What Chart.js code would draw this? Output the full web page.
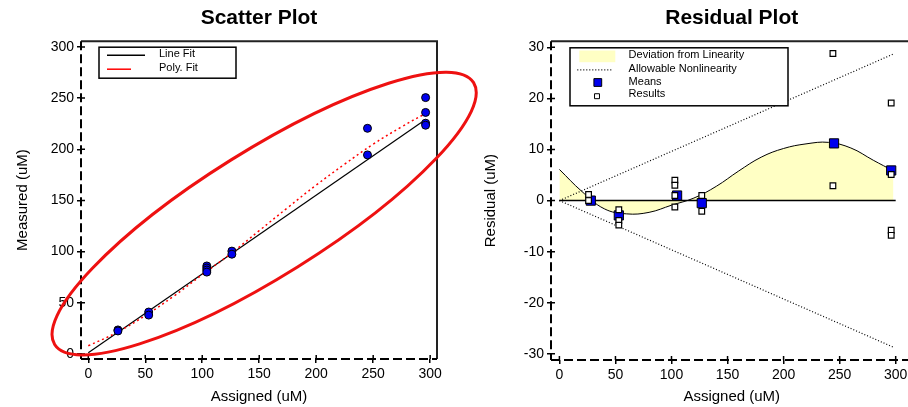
<!DOCTYPE html>
<html>
<head>
<meta charset="utf-8">
<title>Scatter Plot / Residual Plot</title>
<script src="https://cdn.jsdelivr.net/npm/chart.js@4.4.1/dist/chart.umd.min.js"></script>
<style>
  html, body { margin: 0; padding: 0; background: #fff; overflow: hidden; width: 908px; height: 407px; }
  #scatterChart { position: absolute; left: 0; top: 0; }
  #residualChart { position: absolute; left: 480px; top: 0; }
</style>
</head>
<body>
<canvas id="scatterChart" width="480" height="407"></canvas>
<canvas id="residualChart" width="440" height="407"></canvas>
<script>
// Tick labels
const xTickValues = [0, 50, 100, 150, 200, 250, 300];
const scatterYTicks = [0, 50, 100, 150, 200, 250, 300];
const residualYTicks = [-30, -20, -10, 0, 10, 20, 30];

// Scatter plot: measured results per assigned level
const assigned = [26, 26, 53, 53, 104, 104, 104, 104, 126, 126, 245, 245, 296, 296, 296, 296];
const measured = [23.5, 22.5, 41, 38, 86, 84, 82, 80, 100.5, 97.5, 220.5, 194.5, 250.5, 236, 225.5, 223.5];

// Fitted lines
const lineFitX = [0, 296];
const lineFitY = [1.3, 229];
const polyFitX = [0, 25, 50, 75, 100, 125, 150, 175, 200, 225, 250, 275, 296];
const polyFitY = [8, 21, 37.5, 56.5, 77.5, 98, 120.5, 143, 165, 185.5, 205, 222, 235];

// Residual plot
const resultX = [26, 26, 53, 53, 53, 103, 103, 103, 103, 127, 127, 244, 244, 296, 296, 296, 296];
const resultY = [1.2, 0, -1.8, -3.9, -4.8, 4.0, 3.0, 1.0, -1.25, 1.0, -2.1, 28.8, 2.9, 19.1, 5.1, -5.8, -6.8];
const meanX = [28, 53, 105, 127, 245, 296];
const meanY = [0, -2.9, 1.0, -0.5, 11.2, 5.9];
const deviationX = [0, 20, 40, 60, 80, 100, 120, 140, 160, 180, 200, 220, 240, 260, 280, 298];
const deviationY = [6.1, 1.8, -1.6, -2.6, -2.3, -0.9, 0.5, 2.8, 5.8, 8.5, 10.2, 11.1, 11.4, 10.3, 7.9, 5.8];
const allowX = [0, 298];
const allowUpperY = [0, 28.7];
const allowLowerY = [0, -28.7];
const zeroX = [0, 300];
const zeroY = [0, 0];

const FONT = "'Liberation Sans', Arial, sans-serif";
const BLUE = '#0000ee';
const YELLOW = 'rgb(255, 255, 196)';

const toPoints = (xs, ys) => xs.map((x, i) => ({ x: x, y: ys[i] }));

// Black ticks, fixed axis size so both plots line up (axis line drawn by framePlugin)
function axis(title, tickValues, min, max, size, titlePad) {
    return {
        type: 'linear',
        min: min,
        max: max,
        afterBuildTicks: s => { s.ticks = tickValues.map(v => ({ value: v })); },
        afterFit: s => { if (s.isHorizontal()) s.height = size; else s.width = size; },
        grid: { display: true, drawOnChartArea: false, drawTicks: true, tickLength: 4, color: '#000', lineWidth: 1.5 },
        border: { display: false },
        ticks: { color: '#000', font: { family: FONT, size: 14 }, padding: 3, maxRotation: 0 },
        title: { display: true, text: title, color: '#000', font: { family: FONT, size: 15 }, padding: titlePad }
    };
}

// Dashed left/bottom axis, solid frame on top/right, inner half of each tick
const framePlugin = {
    id: 'frame',
    afterDraw(chart) {
        const { ctx, chartArea: a, scales } = chart;
        ctx.save();
        ctx.strokeStyle = '#222';
        ctx.lineWidth = 2;
        ctx.beginPath();
        ctx.moveTo(a.left, a.top);
        ctx.lineTo(a.right, a.top);
        ctx.lineTo(a.right, a.bottom);
        ctx.stroke();

        ctx.strokeStyle = '#000';
        ctx.setLineDash([9, 4]);
        ctx.beginPath();
        ctx.moveTo(a.left, a.top);
        ctx.lineTo(a.left, a.bottom);
        ctx.moveTo(a.left, a.bottom);
        ctx.lineTo(a.right, a.bottom);
        ctx.stroke();
        ctx.setLineDash([]);

        ctx.lineWidth = 1.5;
        ctx.beginPath();
        scales.x.ticks.forEach(t => {
            const px = scales.x.getPixelForValue(t.value);
            ctx.moveTo(px, a.bottom);
            ctx.lineTo(px, a.bottom - 4);
        });
        scales.y.ticks.forEach(t => {
            const py = scales.y.getPixelForValue(t.value);
            ctx.moveTo(a.left, py);
            ctx.lineTo(a.left + 4, py);
        });
        ctx.stroke();
        ctx.restore();
    }
};

// Boxed legend inside the plot area
function boxLegend(cfg) {
    return {
        id: 'boxLegend',
        afterDraw(chart) {
            const { ctx, chartArea: a } = chart;
            const bx = a.left + cfg.left, by = a.top + cfg.top;
            ctx.save();
            ctx.fillStyle = '#fff';
            ctx.fillRect(bx, by, cfg.width, cfg.height);
            ctx.strokeStyle = '#000';
            ctx.lineWidth = 1.5;
            ctx.strokeRect(bx, by, cfg.width, cfg.height);
            cfg.rows.forEach(r => {
                if (r.kind === 'line') {
                    ctx.beginPath();
                    ctx.setLineDash(r.dash);
                    ctx.strokeStyle = r.color;
                    ctx.lineWidth = r.width;
                    ctx.moveTo(bx + r.x0, by + r.y);
                    ctx.lineTo(bx + r.x1, by + r.y);
                    ctx.stroke();
                    ctx.setLineDash([]);
                } else if (r.kind === 'rect') {
                    ctx.fillStyle = r.fill;
                    ctx.fillRect(bx + r.x0, by + r.y0, r.x1 - r.x0, r.y1 - r.y0);
                } else {
                    ctx.fillStyle = r.bg;
                    ctx.strokeStyle = '#000';
                    ctx.lineWidth = 1;
                    Chart.helpers.drawPoint(ctx, { pointStyle: r.style, radius: r.radius, rotation: 0, borderWidth: 1 }, bx + r.x, by + r.y);
                }
                ctx.fillStyle = '#000';
                ctx.font = '11px ' + FONT;
                ctx.textBaseline = 'middle';
                ctx.textAlign = 'left';
                ctx.fillText(r.text, bx + cfg.textX, by + r.textY);
            });
            ctx.restore();
        }
    };
}

// Hand-drawn red ring around the scatter data
const ring = { cx: 154.3, cy: 137.2, rx: 247, ry: 63, angle: -32 };
const ringPlugin = {
    id: 'ring',
    afterDraw(chart) {
        const { ctx, scales } = chart;
        ctx.save();
        ctx.strokeStyle = '#ee1111';
        ctx.lineWidth = 3;
        ctx.beginPath();
        ctx.ellipse(scales.x.getPixelForValue(ring.cx), scales.y.getPixelForValue(ring.cy),
            ring.rx, ring.ry, ring.angle * Math.PI / 180, 0, Math.PI * 2);
        ctx.stroke();
        ctx.restore();
    }
};

function titleOpts(text) {
    return {
        display: true, text: text, fullSize: false, color: '#000',
        font: { family: FONT, size: 21, weight: 'bold' },
        padding: { top: 6, bottom: 10 }
    };
}

// Scatter Plot
new Chart(document.getElementById('scatterChart'), {
    type: 'scatter',
    data: {
        datasets: [{
            label: 'Results',
            data: toPoints(assigned, measured),
            pointStyle: 'circle',
            pointRadius: 4,
            backgroundColor: BLUE,
            borderColor: '#000',
            borderWidth: 1,
            order: 0
        }, {
            label: 'Line Fit',
            data: toPoints(lineFitX, lineFitY),
            showLine: true,
            pointRadius: 0,
            borderColor: '#000',
            borderWidth: 1.2,
            order: 2
        }, {
            label: 'Poly. Fit',
            data: toPoints(polyFitX, polyFitY),
            showLine: true,
            pointRadius: 0,
            borderColor: '#ff0000',
            borderWidth: 1.5,
            borderDash: [2, 3],
            tension: 0.4,
            order: 1
        }]
    },
    options: {
        responsive: false,
        animation: false,
        events: [],
        layout: { padding: { left: 0, right: 43, top: 0, bottom: 0 } },
        scales: {
            x: axis('Assigned (uM)', xTickValues, -6.4, 306, 48, { top: 0, bottom: 1 }),
            y: axis('Measured (uM)', scatterYTicks, -4.9, 305.6, 81, { top: 14, bottom: 0 })
        },
        plugins: {
            legend: { display: false },
            tooltip: { enabled: false },
            title: titleOpts('Scatter Plot')
        }
    },
    plugins: [framePlugin, boxLegend({
        left: 18, top: 6, width: 137, height: 31, textX: 60,
        rows: [
            { text: 'Line Fit', textY: 6.5, kind: 'line', x0: 8, x1: 46, y: 8, color: '#000', dash: [], width: 1.5 },
            { text: 'Poly. Fit', textY: 20.5, kind: 'line', x0: 8, x1: 32, y: 22, color: '#ff0000', dash: [], width: 1.5 }
        ]
    }), ringPlugin]
});

// Residual Plot
new Chart(document.getElementById('residualChart'), {
    type: 'scatter',
    data: {
        datasets: [{
            label: 'Results',
            data: toPoints(resultX, resultY),
            pointStyle: 'rect',
            pointRadius: 4,
            backgroundColor: '#fff',
            borderColor: '#000',
            borderWidth: 1.2,
            order: 0
        }, {
            label: 'Means',
            data: toPoints(meanX, meanY),
            pointStyle: 'rect',
            pointRadius: 6.5,
            backgroundColor: BLUE,
            borderColor: '#000',
            borderWidth: 1,
            order: 1
        }, {
            label: 'Zero',
            data: toPoints(zeroX, zeroY),
            showLine: true,
            pointRadius: 0,
            borderColor: '#000',
            borderWidth: 1.5,
            order: 2
        }, {
            label: 'Allowable Nonlinearity',
            data: toPoints(allowX, allowUpperY),
            showLine: true,
            pointRadius: 0,
            borderColor: '#000',
            borderWidth: 1.2,
            borderDash: [1, 2],
            order: 2
        }, {
            label: 'Allowable Nonlinearity (lower)',
            data: toPoints(allowX, allowLowerY),
            showLine: true,
            pointRadius: 0,
            borderColor: '#000',
            borderWidth: 1.2,
            borderDash: [1, 2],
            order: 2
        }, {
            label: 'Deviation from Linearity',
            data: toPoints(deviationX, deviationY),
            showLine: true,
            pointRadius: 0,
            borderColor: '#000',
            borderWidth: 1,
            backgroundColor: YELLOW,
            fill: 'origin',
            tension: 0.4,
            order: 3
        }]
    },
    options: {
        responsive: false,
        animation: false,
        events: [],
        layout: { padding: { left: 0, right: 7, top: 0, bottom: 0 } },
        scales: {
            x: axis('Assigned (uM)', xTickValues, -7.5, 315, 47, { top: 0, bottom: 1 }),
            y: axis('Residual (uM)', residualYTicks, -31.2, 31.2, 71, { top: 2, bottom: 0 })
        },
        plugins: {
            legend: { display: false },
            tooltip: { enabled: false },
            title: titleOpts('Residual Plot')
        }
    },
    plugins: [framePlugin, boxLegend({
        left: 19, top: 6.6, width: 218, height: 58, textX: 58.6,
        rows: [
            { text: 'Deviation from Linearity', textY: 7, kind: 'rect', x0: 9.3, x1: 45.3, y0: 2.7, y1: 14.4, fill: YELLOW },
            { text: 'Allowable Nonlinearity', textY: 20.7, kind: 'line', x0: 7.3, x1: 43.3, y: 22, color: '#000', dash: [1, 2], width: 1.2 },
            { text: 'Means', textY: 33.7, kind: 'marker', x: 27.8, y: 34.7, style: 'rect', radius: 5.5, bg: BLUE },
            { text: 'Results', textY: 45.7, kind: 'marker', x: 27, y: 48.4, style: 'rect', radius: 3.5, bg: '#fff' }
        ]
    })]
});
</script>
</body>
</html>
